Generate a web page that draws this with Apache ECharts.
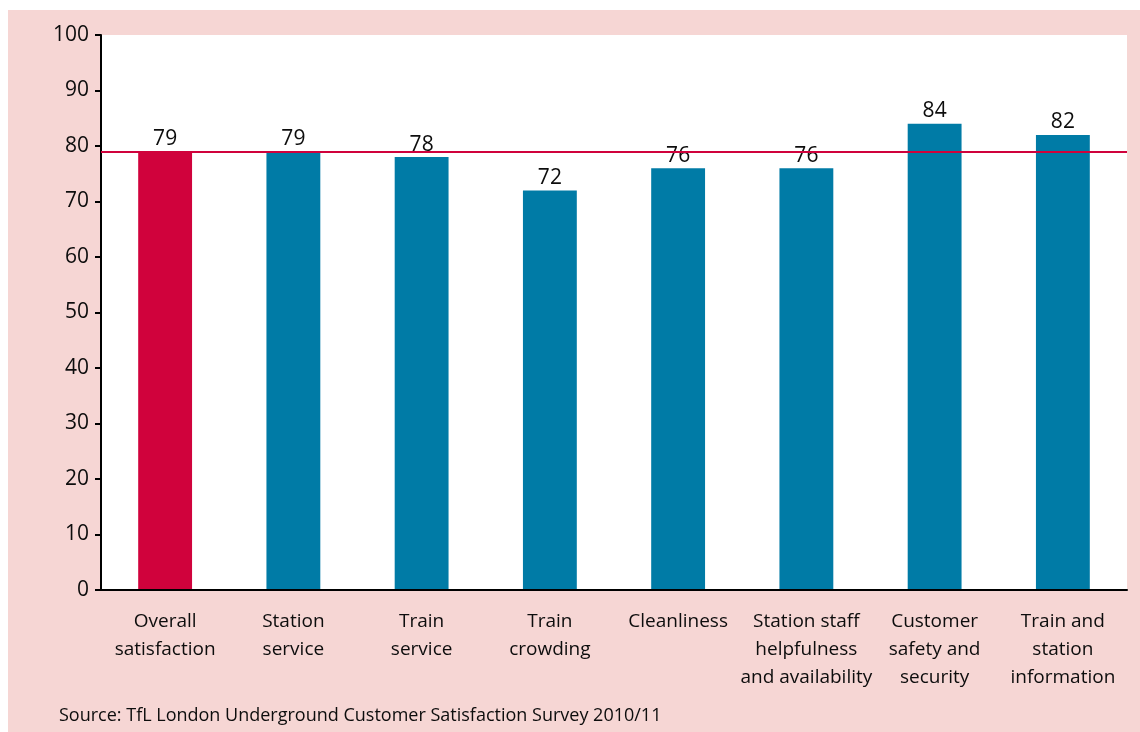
<!DOCTYPE html>
<html>
<head>
<meta charset="utf-8">
<script src="https://cdn.jsdelivr.net/npm/echarts@6/dist/echarts.min.js"></script>
<style>
  html, body { margin: 0; padding: 0; background: #ffffff; }
  #chart { width: 1140px; height: 732px; }
</style>
</head>
<body>
<div id="chart"></div>
<script>
// Customer satisfaction scores by category
const categories = [
  'Overall\nsatisfaction',
  'Station\nservice',
  'Train\nservice',
  'Train\ncrowding',
  'Cleanliness',
  'Station staff\nhelpfulness\nand availability',
  'Customer\nsafety and\nsecurity',
  'Train and\nstation\ninformation'
];
const scores = [79, 79, 78, 72, 76, 76, 84, 82];
const overallScore = scores[0];
const yTicks = [0, 10, 20, 30, 40, 50, 60, 70, 80, 90, 100];
const sourceNote = 'Source: TfL London Underground Customer Satisfaction Survey 2010/11';

const RED = '#d0023c';
const BLUE = '#007ba6';
const PINK = '#f6d6d4';
const INK = '#0d0d0d';
const FONT = '"Open Sans", "Noto Sans", sans-serif';

const chart = echarts.init(document.getElementById('chart'), null, { renderer: 'canvas' });

chart.setOption({
  backgroundColor: '#ffffff',
  animation: false,
  graphic: [
    {
      type: 'rect',
      z: -10,
      silent: true,
      shape: { x: 8, y: 10, width: 1132, height: 722 },
      style: { fill: PINK }
    },
    {
      type: 'text',
      left: 59,
      top: 707,
      silent: true,
      style: { text: sourceNote, fontFamily: FONT, fontSize: 18, fill: INK }
    }
  ],
  grid: {
    left: 101, right: 13, top: 35, bottom: 142,
    show: true, backgroundColor: '#ffffff', borderWidth: 0
  },
  xAxis: {
    type: 'category',
    data: categories,
    axisLine: { show: true, lineStyle: { color: '#000', width: 2 } },
    axisTick: { show: false },
    axisLabel: {
      interval: 0, margin: 18, color: INK,
      fontFamily: FONT, fontSize: 19, lineHeight: 28
    },
    z: 5
  },
  yAxis: {
    type: 'value',
    min: 0, max: 100, interval: 10,
    axisLine: { show: true, lineStyle: { color: '#000', width: 2 } },
    axisTick: { show: true, length: 6, lineStyle: { color: '#000', width: 2 } },
    splitLine: { show: false },
    axisLabel: {
      margin: 12, color: INK, fontFamily: FONT, fontSize: 21,
      formatter: v => (yTicks.includes(v) ? String(v) : '')
    }
  },
  series: [{
    type: 'bar',
    barWidth: '42%',
    data: scores.map((v, i) => ({
      value: v,
      itemStyle: { color: i === 0 ? RED : BLUE }
    })),
    label: {
      show: true, position: 'top', distance: 2,
      color: INK, fontFamily: FONT, fontSize: 21
    },
    markLine: {
      silent: true,
      symbol: 'none',
      label: { show: false },
      lineStyle: { color: RED, width: 2, type: 'solid' },
      data: [{ yAxis: overallScore }]
    }
  }]
});
</script>
</body>
</html>
